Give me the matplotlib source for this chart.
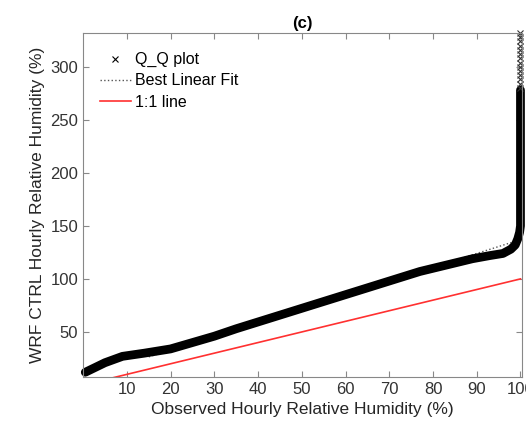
import matplotlib
matplotlib.use("Agg")
import matplotlib.pyplot as plt

plt.rcParams['font.family'] = ['Liberation Sans', 'DejaVu Sans']

# quantile pairs (observed vs WRF CTRL)
obs_q = [0.5, 2, 5, 9, 14, 20, 25, 30, 35, 42, 49, 56, 63, 70, 77, 84,
         89, 93, 96, 97.8, 98.8, 99.4, 99.8, 100, 100, 100]
wrf_q = [12, 15, 21, 27, 30, 34, 40, 46, 53, 62, 71, 80, 89, 98, 107, 114,
         119, 122, 124, 128, 132, 138, 144, 150, 250, 278]

# sparse upper tail at 100 %
tail_obs = [100] * 14
tail_wrf = [280, 284, 288, 292, 296, 300, 304, 308, 312, 316, 320, 324, 328, 332]

fit_x = [15, 100]
fit_y = [26.5, 137]

one_x = [0, 100]
one_y = [0, 100]

fig = plt.figure(figsize=(5.26, 4.33), dpi=100)
ax = fig.add_axes([0.158, 0.130, 0.834, 0.793])

ax.plot(fit_x, fit_y, ':', color='#555555', lw=1.0, label='Best Linear Fit', zorder=1)
ax.plot(obs_q, wrf_q, '-', color='black', lw=6.3, solid_capstyle='round', zorder=2,
        clip_on=False)
ax.plot(tail_obs, tail_wrf, 'x', color='#333333', ms=3.8, mew=0.8, zorder=2, clip_on=False)
ax.plot([], [], 'x', color='black', ms=5, mew=0.8, label='Q_Q plot')
ax.plot(one_x, one_y, '-', color='#ff3030', lw=1.2, label='1:1 line', zorder=3)

ax.set_xlim(0, 100.3)
ax.set_ylim(7.8, 331.5)
ax.set_xticks(range(10, 101, 10))
ax.set_yticks(range(50, 301, 50))

ax.tick_params(direction='in', top=True, right=True, length=4, width=0.8,
               colors='#888888', labelcolor='#333333', labelsize=12)
for s in ax.spines.values():
    s.set_color('#888888')
    s.set_linewidth(0.8)

ax.set_xlabel('Observed Hourly Relative Humidity (%)', fontsize=12.5, color='#262626')
ax.set_ylabel('WRF CTRL Hourly Relative Humidity (%)', fontsize=12.5, color='#262626')
ax.set_title('(c)', fontsize=12, fontweight='bold', pad=4)

h, l = ax.get_legend_handles_labels()
order = [l.index('Q_Q plot'), l.index('Best Linear Fit'), l.index('1:1 line')]
ax.legend([h[i] for i in order], [l[i] for i in order], loc='upper left',
          frameon=False, fontsize=11.5, handlelength=1.9, handletextpad=0.3,
          labelspacing=0.38, borderpad=0, borderaxespad=0,
          bbox_to_anchor=(0.039, 0.945))

fig.savefig('out.png', dpi=100)
